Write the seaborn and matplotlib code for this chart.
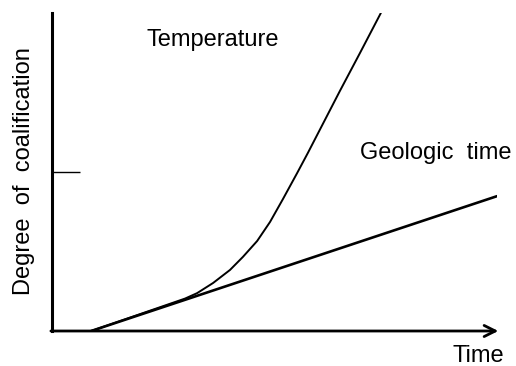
import matplotlib
matplotlib.use("Agg")
import matplotlib.pyplot as plt
import seaborn as sns
import pandas as pd

# Coalification vs. time: geologic time gives a steady linear rise,
# temperature a sharply accelerating one.
geologic_time = [8.8, 100.0]
geologic_rank = [0.0, 42.4]

temp_time = [8.8, 29.9, 32.6, 36.2, 40.0, 42.9, 46.1, 49.0, 51.9, 55.1,
             57.5, 64.7, 69.2, 73.9]
temp_rank = [0.0, 10.2, 11.9, 15.1, 19.2, 23.3, 28.3, 34.3, 41.5, 49.7,
             56.0, 75.5, 87.4, 100.0]

marker_level = [50.0]

sns.set_style("white")
plt.rcParams["font.family"] = ["Liberation Sans", "DejaVu Sans"]
plt.rcParams["text.color"] = "black"

fig = plt.figure(figsize=(5.16, 3.66), dpi=100)
ax = fig.add_axes([52 / 516, 35 / 366, 445 / 516, 318 / 366])

geo = pd.DataFrame({"time": geologic_time, "rank": geologic_rank})
tmp = pd.DataFrame({"time": temp_time, "rank": temp_rank})
sns.lineplot(data=geo, x="time", y="rank", ax=ax, color="black", lw=1.9)
sns.lineplot(data=tmp, x="time", y="rank", ax=ax, color="black", lw=1.4)

ax.set_xlim(0, 100)
ax.set_ylim(0, 100)
for s in ("top", "right", "bottom"):
    ax.spines[s].set_visible(False)
ax.spines["left"].set_linewidth(2.2)
ax.spines["left"].set_color("black")

# x axis drawn as an arrow
ax.annotate("", xy=(100.3, 0), xytext=(-0.25, 0), xycoords="data",
            arrowprops=dict(arrowstyle="->", lw=2.0, color="black",
                            mutation_scale=20, shrinkA=0, shrinkB=0),
            annotation_clip=False)

ax.set_xticks([])
ax.set_yticks(marker_level)
ax.set_yticklabels([""])
ax.tick_params(axis="y", direction="in", length=20, width=1.0, color="black", left=True)

ax.set_xlabel("")
ax.set_ylabel("")
fig.text(24 / 516, 1 - 171 / 366, "Degree  of  coalification", rotation=90,
         fontsize=17, ha="center", va="center", color="black")

ax.text(21.3, 89.6, "Temperature", fontsize=17, ha="left", va="baseline")
ax.text(69.2, 54.1, "Geologic  time", fontsize=17, ha="left", va="baseline")
ax.text(89.9, -9.7, "Time", fontsize=17, ha="left", va="baseline", clip_on=False)

fig.savefig("out.png", dpi=100)
